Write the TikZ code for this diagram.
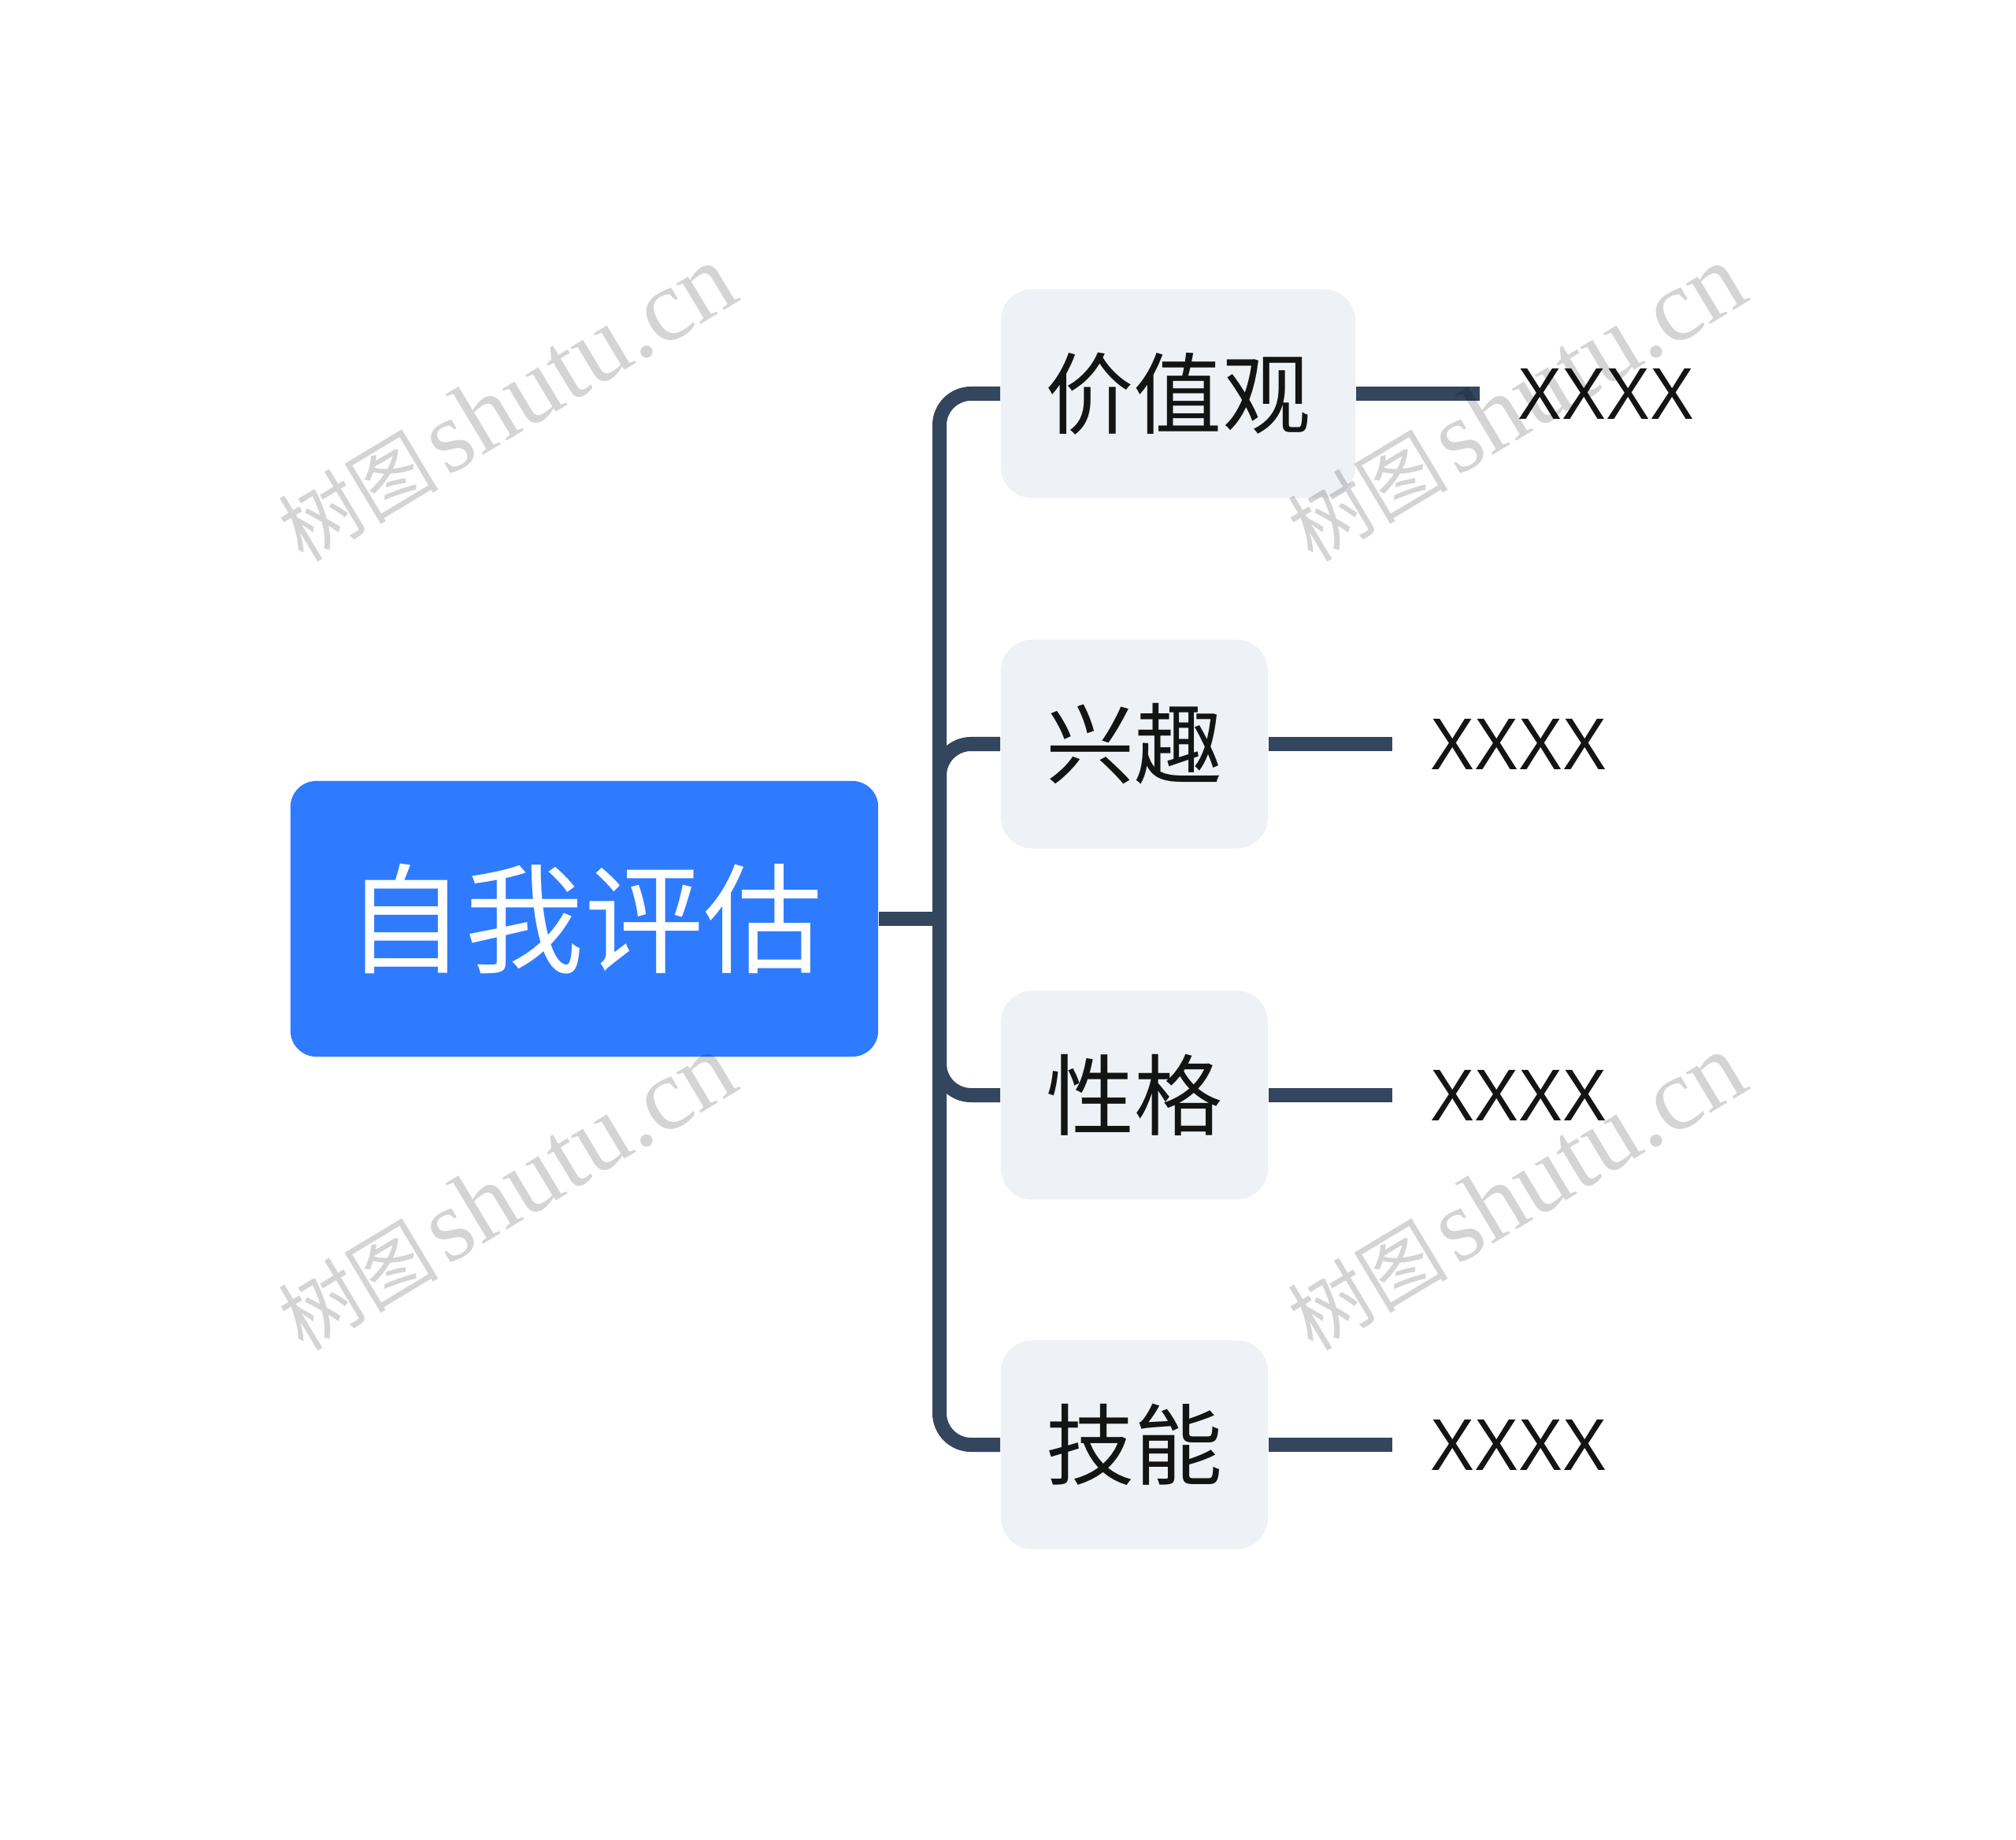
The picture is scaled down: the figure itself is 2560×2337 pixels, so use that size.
\documentclass[tikz,border=0pt]{standalone}
\usepackage{fontspec}
\setmainfont{Liberation Sans}
\newfontfamily\cjk{Noto Sans CJK SC}
\newfontfamily\wmserif{Liberation Serif}
\definecolor{rootblue}{RGB}{46,123,255}
\definecolor{linec}{RGB}{52,69,94}
\definecolor{childbg}{RGB}{238,241,245}
\definecolor{txt}{RGB}{20,20,20}
\tikzset{
  rootbox/.style={rectangle, rounded corners=0.33cm, fill=rootblue, minimum width=7.46cm, minimum height=3.5cm, text=white, font=\cjk\fontsize{43}{50}\selectfont, inner sep=0pt},
  childbox/.style={rectangle, rounded corners=0.4cm, fill=childbg, minimum height=2.65cm, text=txt, font=\cjk\fontsize{31.9}{38}\selectfont, inner sep=0pt},
  leaftext/.style={anchor=west, inner xsep=0.48cm, inner ysep=0pt, text=txt, font=\fontsize{26.5}{30}\selectfont},
  conn/.style={draw=linec, line width=0.18cm},
  wmark/.style={rotate=31, text=black, text opacity=0.17, inner sep=0pt}
}
\begin{document}
\begin{tikzpicture}[x=0.01cm, y=-0.01cm]
\useasboundingbox[fill=white] (0,0) rectangle (2560,2337);

% nodes
\node[rootbox] (root) at (742,1167) {自我评估};
\node[childbox, minimum width=4.5cm] (c1) at (1496,500) {价值观};
\node[childbox, minimum width=3.39cm] (c2) at (1440.5,945) {兴趣};
\node[childbox, minimum width=3.39cm] (c3) at (1440.5,1391) {性格};
\node[childbox, minimum width=3.39cm] (c4) at (1440.5,1835) {技能};

\node[leaftext] (l1) at (1879,500) {\scalebox{0.9}[1]{XXXX}};
\node[leaftext] (l2) at (1768,945) {\scalebox{0.9}[1]{XXXX}};
\node[leaftext] (l3) at (1768,1391) {\scalebox{0.9}[1]{XXXX}};
\node[leaftext] (l4) at (1768,1835) {\scalebox{0.9}[1]{XXXX}};

% connectors
\coordinate (tk) at (1193,1167);
\draw[conn] (root.east) -- (tk);
\draw[conn, rounded corners=0.4cm] (c1.west) -| (tk) |- (c4.west);
\draw[conn, rounded corners=0.4cm] (tk) |- (c2.west);
\draw[conn, rounded corners=0.4cm] (tk) |- (c3.west);
\draw[conn] (c1.east) -- (l1.west);
\draw[conn] (c2.east) -- (l2.west);
\draw[conn] (c3.east) -- (l3.west);
\draw[conn] (c4.east) -- (l4.west);

% watermarks
\begin{scope}
\clip (0,0) rectangle (2560,2337);
\foreach \wx in {643,1925}{
  \foreach \wy in {513,1515,2517}{
    \node[wmark] at (\wx,\wy) {{\cjk\fontsize{29}{34}\selectfont 树图}\hspace{0.1cm}{\wmserif\fontsize{37}{42}\selectfont shutu.cn}};
  }
}
\end{scope}
\end{tikzpicture}
\end{document}
